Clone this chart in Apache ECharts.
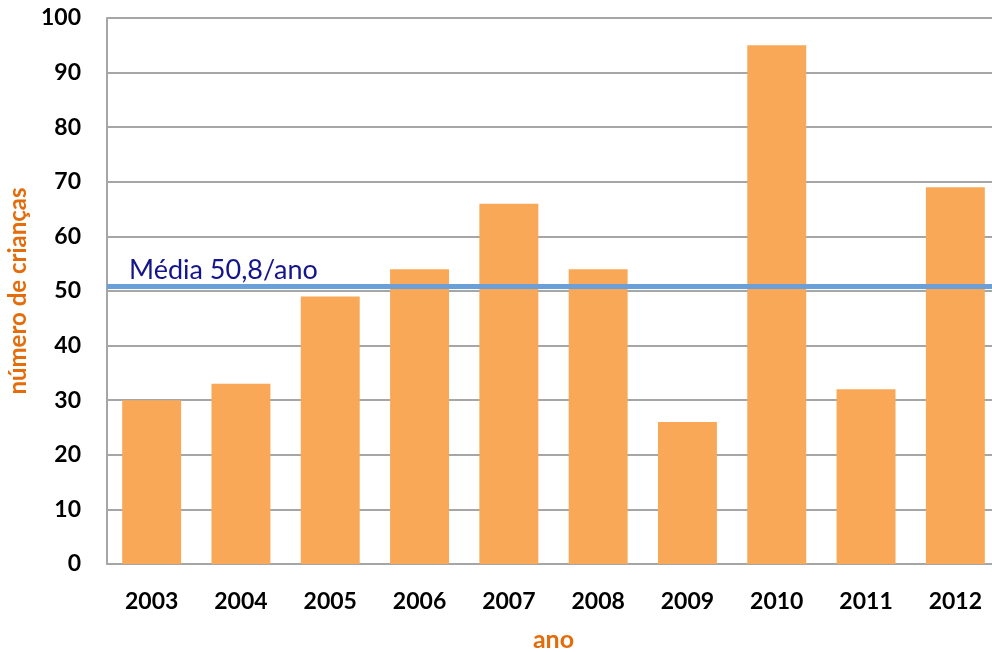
<!DOCTYPE html>
<html>
<head>
<meta charset="utf-8">
<script src="https://cdn.jsdelivr.net/npm/echarts@6/dist/echarts.min.js"></script>
<style>
  html, body { margin: 0; padding: 0; background: #fff; }
  #chart { width: 992px; height: 652px; }
</style>
</head>
<body>
<div id="chart"></div>
<script>
// anos e número de crianças
const anos = ['2003', '2004', '2005', '2006', '2007', '2008', '2009', '2010', '2011', '2012']
const criancas = [30, 33, 49, 54, 66, 54, 26, 95, 32, 69]
const media = 50.8

const myChart = echarts.init(document.getElementById('chart'))
const option = {
  animation: false,
  textStyle: { fontFamily: 'Lato' },
  grid: {
    left: 107,
    right: -8,
    top: 18,
    bottom: 88,
    outerBoundsMode: 'none',
  },
  xAxis: {
    type: 'category',
    data: anos,
    name: 'ano',
    nameLocation: 'middle',
    nameGap: 63,
    nameTextStyle: { color: '#e46c0a', fontWeight: 'bold', fontSize: 25 },
    axisLine: { lineStyle: { color: '#a6a6a6', width: 2 } },
    axisTick: { show: false },
    axisLabel: { color: '#000', fontWeight: 'bold', fontSize: 23, margin: 26 },
  },
  yAxis: {
    type: 'value',
    min: 0,
    max: 100,
    interval: 10,
    name: 'número de crianças',
    nameLocation: 'middle',
    nameGap: 75,
    nameTextStyle: { color: '#e46c0a', fontWeight: 'bold', fontSize: 24 },
    axisLine: { show: true, lineStyle: { color: '#a6a6a6', width: 2 } },
    axisTick: { show: false },
    axisLabel: { color: '#000', fontWeight: 'bold', fontSize: 23, margin: 26 },
    splitLine: { lineStyle: { color: '#a6a6a6', width: 2 } },
  },
  series: [
    {
      type: 'bar',
      data: criancas,
      barWidth: '66%',
      itemStyle: { color: '#f9a858' },
      markLine: {
        symbol: 'none',
        silent: true,
        lineStyle: { color: '#6a9fd8', width: 5, type: 'solid' },
        label: {
          position: 'insideStartTop',
          formatter: 'Média 50,8/ano',
          color: '#14148c',
          fontSize: 27,
          distance: [22, 3],
        },
        data: [{ yAxis: media }],
      },
    },
  ],
}
myChart.setOption(option)
</script>
</body>
</html>
